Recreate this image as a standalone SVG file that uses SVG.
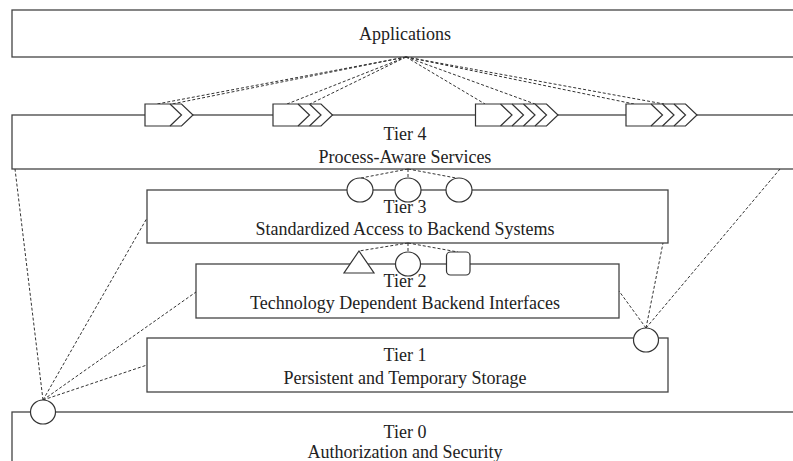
<svg xmlns="http://www.w3.org/2000/svg" width="793" height="461" viewBox="0 0 793 461">
<style>
.box{fill:#fff;stroke:#444;stroke-width:1.3}
.shape{fill:#fff;stroke:#333;stroke-width:1.2}
.inner{fill:none;stroke:#333;stroke-width:1.2}
.dash{fill:none;stroke:#333;stroke-width:1;stroke-dasharray:3,2}
text{font-family:"Liberation Serif","Times New Roman",serif;font-size:18px;fill:#222;text-anchor:middle}
</style>
<rect width="793" height="461" fill="#fff"/>
<g id="applications"><rect class="box" x="12" y="10" width="800" height="47"/><text x="405" y="40">Applications</text></g>
<g id="tier4"><rect class="box" x="12" y="115" width="800" height="54"/><text x="405" y="140">Tier 4</text><text x="405" y="163">Process-Aware Services</text></g>
<g id="tier3"><rect class="box" x="147" y="190" width="521" height="53"/><text x="405" y="213">Tier 3</text><text x="405" y="235">Standardized Access to Backend Systems</text></g>
<g id="tier2"><rect class="box" x="196" y="264" width="423" height="54"/><text x="405" y="287">Tier 2</text><text x="405" y="309">Technology Dependent Backend Interfaces</text></g>
<g id="tier1"><rect class="box" x="147" y="338" width="521" height="54"/><text x="405" y="361">Tier 1</text><text x="405" y="384">Persistent and Temporary Storage</text></g>
<g id="tier0"><rect class="box" x="12" y="412" width="800" height="60"/><text x="405" y="438">Tier 0</text><text x="405" y="458">Authorization and Security</text></g>
<g id="connectors">
<path class="dash" d="M406,57 L157,104 M406,57 L172,104 M406,57 L287,104 M406,57 L310,104 M406,57 L485,104 M406,57 L535,104 M406,57 L634,104 M406,57 L664,104"/>
<path class="dash" d="M408,169 L361,178 M408,169 L408,178 M408,169 L456,178"/>
<path class="dash" d="M408,243 L359,251 M408,243 L408,252 M408,243 L458,252"/>
<path class="dash" d="M646,328 L619,291 M646,328 L663,243 M646,328 L780,169"/>
<path class="dash" d="M43,400 L15,169 M43,400 L147,218 M43,400 L196,292 M43,400 L147,365"/>
</g>
<g id="process1"><path class="shape" d="M145,104 H181.5 L193,115 L181.5,126 H145 Z"/><path class="inner" d="M170,104 L181.5,115 L170,126"/></g>
<g id="process2"><path class="shape" d="M273,104 H321 L332.5,115 L321,126 H273 Z"/><path class="inner" d="M298,104 L309.5,115 L298,126 M309.5,104 L321,115 L309.5,126"/></g>
<g id="process3"><path class="shape" d="M475.5,104 H546.5 L558,115 L546.5,126 H475.5 Z"/><path class="inner" d="M500.5,104 L512,115 L500.5,126 M512,104 L523.5,115 L512,126 M523.5,104 L535,115 L523.5,126 M535,104 L546.5,115 L535,126"/></g>
<g id="process4"><path class="shape" d="M626,104 H685.5 L697,115 L685.5,126 H626 Z"/><path class="inner" d="M651,104 L662.5,115 L651,126 M662.5,104 L674,115 L662.5,126 M674,104 L685.5,115 L674,126"/></g>
<g id="t3-access1"><ellipse class="shape" cx="360" cy="190" rx="13" ry="12"/></g>
<g id="t3-access2"><ellipse class="shape" cx="408" cy="190" rx="13" ry="12"/></g>
<g id="t3-access3"><ellipse class="shape" cx="459" cy="190" rx="13" ry="12"/></g>
<g id="t2-triangle"><path class="shape" d="M359,251 L374,273 L344,273 Z"/></g>
<g id="t2-circle"><ellipse class="shape" cx="408" cy="264" rx="12.5" ry="12"/></g>
<g id="t2-square"><rect class="shape" x="446.5" y="252" width="23.5" height="23" rx="4"/></g>
<g id="t1-circle"><ellipse class="shape" cx="646" cy="340" rx="12.5" ry="12"/></g>
<g id="t0-circle"><ellipse class="shape" cx="43" cy="412" rx="12.5" ry="12"/></g>
</svg>
